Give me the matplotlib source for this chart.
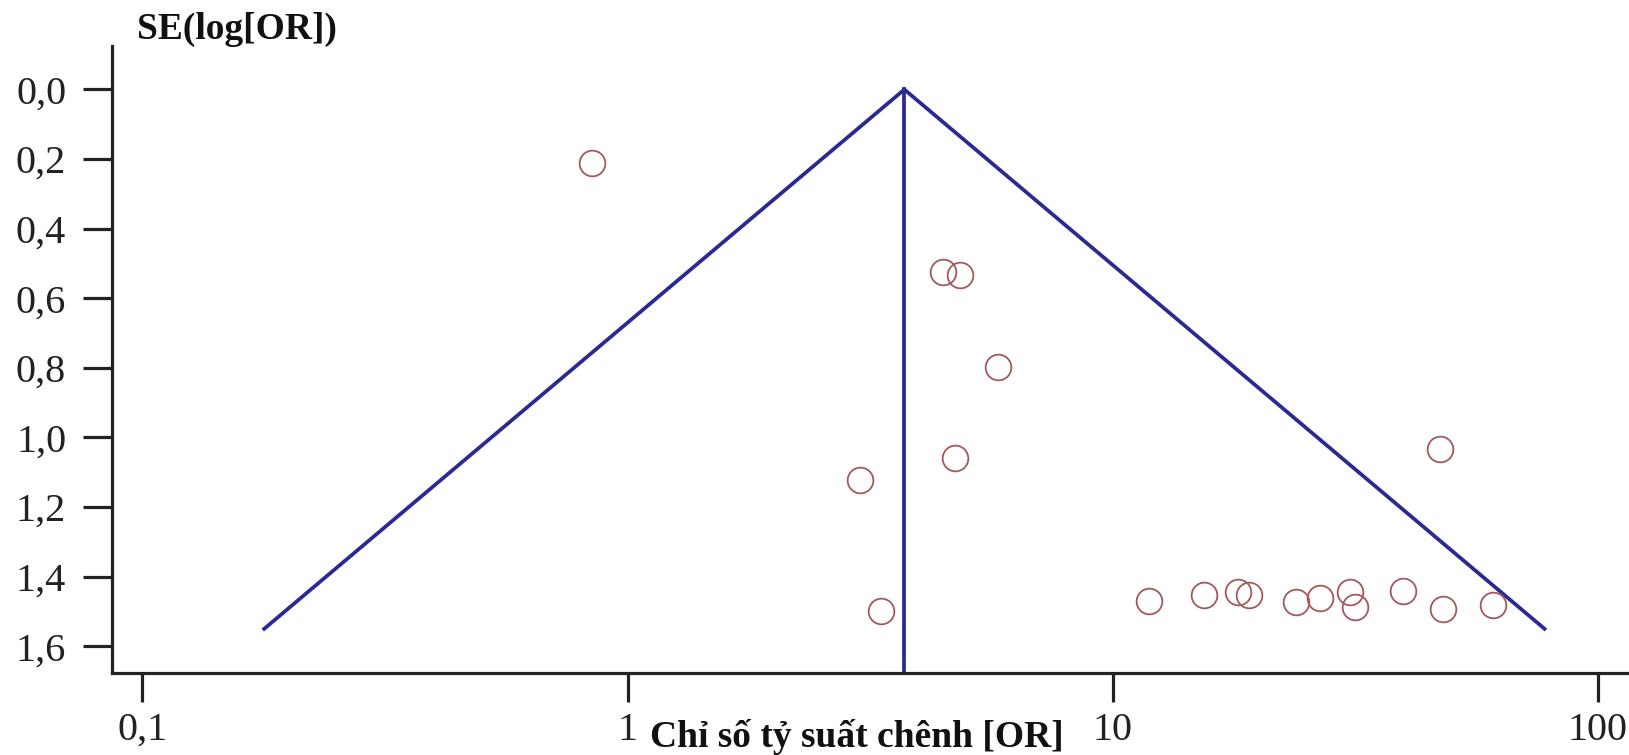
import numpy as np
import matplotlib
matplotlib.use("Agg")
import matplotlib.pyplot as plt

# study estimates: odds ratio and standard error of log(OR)
odds_ratios = [0.845, 4.46, 4.84, 5.81, 4.72, 3.01, 3.33, 47.3,
               11.9, 15.4, 18.1, 19.1, 23.9, 26.7, 30.9, 31.6, 39.6, 48.0, 60.7]
se_log_or = [0.212, 0.525, 0.534, 0.797, 1.059, 1.123, 1.499, 1.032,
             1.470, 1.453, 1.445, 1.453, 1.473, 1.462, 1.445, 1.487, 1.441, 1.493, 1.482]

pooled_or = 3.72
se_max = 1.55

x_ticks = [0.1, 1, 10, 100]
x_tick_labels = ["0,1", "1", "10", "100"]
y_ticks = [0.0, 0.2, 0.4, 0.6, 0.8, 1.0, 1.2, 1.4, 1.6]
y_tick_labels = ["0,0", "0,2", "0,4", "0,6", "0,8", "1,0", "1,2", "1,4", "1,6"]

plt.rcParams["font.family"] = ["Liberation Serif", "DejaVu Serif"]

fig = plt.figure(figsize=(16.29, 7.55), dpi=100)
ax = fig.add_axes([112 / 1629, 1 - 673 / 755, 1 - 112 / 1629, (673 - 46) / 755])

line_color = "#2a2a92"
point_color = "#a4585a"

# funnel: pooled estimate +/- 1.96 SE on the log scale
lo = pooled_or * np.exp(-1.96 * se_max)
hi = pooled_or * np.exp(1.96 * se_max)
ax.plot([lo, pooled_or, hi], [se_max, 0, se_max], color=line_color, lw=2.7,
        solid_joinstyle="miter")
ax.plot([pooled_or, pooled_or], [0, 2], color=line_color, lw=2.7)

ax.plot(odds_ratios, se_log_or, "o", ms=18.5, mfc="none", mec=point_color, mew=1.3)

ax.set_xscale("log")
ax.set_xlim(10 ** -1.0625, 10 ** 2.064)
ax.set_ylim(1.677, -0.125)

ax.set_xticks(x_ticks)
ax.set_xticklabels(x_tick_labels)
ax.set_xticks([], minor=True)
ax.set_yticks(y_ticks)
ax.set_yticklabels(y_tick_labels)

for side in ["top", "right"]:
    ax.spines[side].set_visible(False)
for side in ["left", "bottom"]:
    ax.spines[side].set_linewidth(2.3)
    ax.spines[side].set_color("#222222")

ax.tick_params(axis="both", length=21, width=2.3, color="#222222",
               labelsize=29, labelcolor="#222222")
ax.tick_params(axis="x", pad=7)
ax.tick_params(axis="y", pad=12)

fig.text(137 / 1629, 1 - 29 / 755, "SE(log[OR])", fontsize=27, fontweight="bold",
         ha="left", va="center", color="#111111")
fig.text(857 / 1629, 1 - 747 / 755, "Chỉ số tỷ suất chênh [OR]", fontsize=27,
         fontweight="bold", ha="center", va="baseline", color="#111111")

fig.savefig("out.png", dpi=100)
